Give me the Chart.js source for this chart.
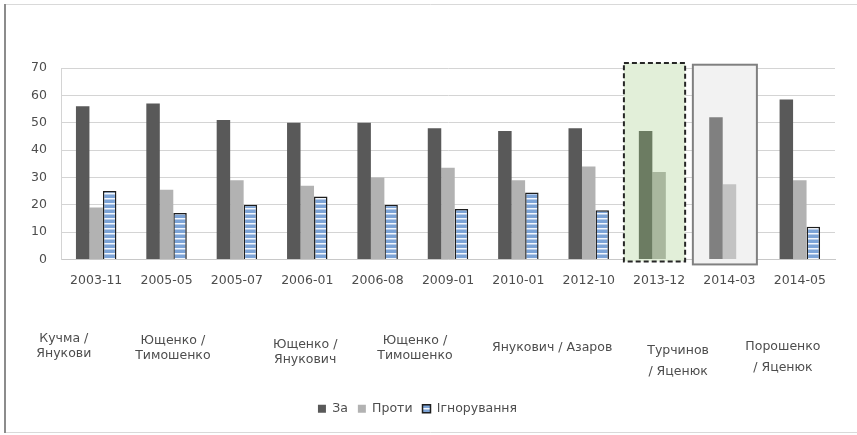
<!DOCTYPE html>
<html>
<head>
<meta charset="utf-8">
<script src="https://cdn.jsdelivr.net/npm/chart.js@4"></script>
<style>
  html, body { margin: 0; padding: 0; background: #fff; }
  #wrap { width: 857px; height: 435px; }
</style>
</head>
<body>
<div id="wrap"><canvas id="myChart" width="857" height="435"></canvas></div>
<script>
// Chart data
const categories = ['2003-11', '2005-05', '2005-07', '2006-01', '2006-08', '2009-01', '2010-01', '2012-10', '2013-12', '2014-03', '2014-05'];
const za = [56, 57, 51, 50, 50, 48, 47, 48, 47, 52, 58.5];
const proty = [19, 25.5, 29, 27, 30, 33.5, 29, 34, 32, 27.5, 29];
const ignor = [25, 17, 20, 23, 20, 18.5, 24.5, 18, null, null, 12];
const seriesNames = ['За', 'Проти', 'Ігнорування'];
const yTicks = [0, 10, 20, 30, 40, 50, 60, 70];

// government periods shown under the dates
const eraLabels = [
  ['Кучма /', 'Янукови'],
  ['Ющенко /', 'Тимошенко'],
  ['Ющенко /', 'Янукович'],
  ['Ющенко /', 'Тимошенко'],
  ['Янукович / Азаров'],
  ['Турчинов', '/ Яценюк'],
  ['Порошенко', '/ Яценюк']
];

// layout of the period labels (category position, first line offset, line gap)
const eraPlace = [[-0.46, 79, 15], [1.09, 81, 15], [2.97, 85, 15], [4.53, 81, 15], [6.48, 88, 15], [8.27, 91, 21], [9.76, 87, 21]];

const fontFamily = '"DejaVu Sans", "Liberation Sans", sans-serif';
const textColor = '#4d4d4d';

// highlighted months: 2013-12 (green dashed) and 2014-03 (grey)
const greenIdx = categories.indexOf('2013-12');
const greyIdx = categories.indexOf('2014-03');

function zaColor(i) {
  if (i === greenIdx) return '#6c7c62';
  if (i === greyIdx) return '#808080';
  return '#595959';
}
function protyColor(i) {
  if (i === greenIdx) return '#a9b79e';
  if (i === greyIdx) return '#c3c3c3';
  return '#b2b2b2';
}

// striped fill for "Ігнорування"
const patCanvas = document.createElement('canvas');
patCanvas.width = 8;
patCanvas.height = 5;
const pctx = patCanvas.getContext('2d');
pctx.fillStyle = '#7ca3d6';
pctx.fillRect(0, 0, 8, 5);
pctx.fillStyle = '#f4f8fd';
pctx.fillRect(0, 3, 8, 1);
pctx.fillStyle = '#b5cbea';
pctx.fillRect(0, 4, 8, 1);
const stripes = document.getElementById('myChart').getContext('2d').createPattern(patCanvas, 'repeat');

// frame around the picture
const framePlugin = {
  id: 'frame',
  beforeDraw(chart) {
    const c = chart.ctx;
    c.save();
    c.fillStyle = '#fff';
    c.fillRect(0, 0, chart.width, chart.height);
    c.strokeStyle = '#d9d9d9';
    c.lineWidth = 1;
    c.beginPath();
    c.moveTo(4, 4.5); c.lineTo(chart.width, 4.5);
    c.moveTo(4, 432.5); c.lineTo(chart.width, 432.5);
    c.stroke();
    c.strokeStyle = '#8c8c8c';
    c.lineWidth = 2;
    c.beginPath();
    c.moveTo(5, 4); c.lineTo(5, 433);
    c.stroke();
    c.restore();
  }
};

// boxes behind the 2013-12 and 2014-03 groups
const highlightPlugin = {
  id: 'highlight',
  beforeDatasetsDraw(chart) {
    const x = chart.scales.x, y = chart.scales.y, c = chart.ctx;
    const w = x.getPixelForValue(1) - x.getPixelForValue(0);
    c.save();
    // green dashed
    let cx = x.getPixelForValue(greenIdx);
    let l = cx - 0.5 * w, r = cx + 0.37 * w;
    let t = y.getPixelForValue(71.8), b = y.getPixelForValue(-0.7);
    c.fillStyle = '#e2efd9';
    c.fillRect(l, t, r - l, b - t);
    c.setLineDash([5, 3]);
    c.strokeStyle = '#262626';
    c.lineWidth = 2;
    c.strokeRect(l, t, r - l, b - t);
    // grey solid
    cx = x.getPixelForValue(greyIdx);
    l = cx - 0.52 * w; r = cx + 0.39 * w;
    t = y.getPixelForValue(71.2); b = y.getPixelForValue(-1.8);
    c.setLineDash([]);
    c.fillStyle = '#f2f2f2';
    c.fillRect(l, t, r - l, b - t);
    c.strokeStyle = '#808080';
    c.lineWidth = 2;
    c.strokeRect(l, t, r - l, b - t);
    c.restore();
  }
};

// period labels below the date ticks
const eraPlugin = {
  id: 'eras',
  afterDraw(chart) {
    const x = chart.scales.x, c = chart.ctx;
    const base = chart.chartArea.bottom;
    c.save();
    c.font = '12.5px ' + fontFamily;
    c.fillStyle = textColor;
    c.textAlign = 'center';
    c.textBaseline = 'middle';
    eraLabels.forEach((lines, i) => {
      const [pos, dy, gap] = eraPlace[i];
      const px = x.getPixelForValue(pos);
      lines.forEach((txt, j) => c.fillText(txt, px, base + dy + j * gap));
    });
    c.restore();
  }
};

const ctx = document.getElementById('myChart').getContext('2d');
new Chart(ctx, {
  type: 'bar',
  data: {
    labels: categories,
    datasets: [{
      label: seriesNames[0],
      data: za,
      backgroundColor: c => c.type === 'data' ? zaColor(c.dataIndex) : '#595959',
      borderWidth: 0
    }, {
      label: seriesNames[1],
      data: proty,
      backgroundColor: c => c.type === 'data' ? protyColor(c.dataIndex) : '#b2b2b2',
      borderWidth: 0
    }, {
      label: seriesNames[2],
      data: ignor,
      backgroundColor: stripes,
      borderColor: '#1e1e1e',
      borderWidth: 1.5
    }]
  },
  options: {
    responsive: false,
    animation: false,
    layout: { padding: { top: 68, right: 22, bottom: 10, left: 0 } },
    datasets: {
      bar: { categoryPercentage: 0.575, barPercentage: 1 }
    },
    plugins: {
      tooltip: { enabled: false },
      legend: {
        position: 'bottom',
        labels: {
          boxWidth: 8,
          boxHeight: 8,
          padding: 10,
          color: textColor,
          font: { family: fontFamily, size: 12.5 }
        }
      }
    },
    scales: {
      x: {
        grid: { display: false, drawTicks: false },
        border: { color: '#c8c8c8' },
        ticks: { color: textColor, padding: 14, maxRotation: 0, autoSkip: false, font: { family: fontFamily, size: 12.5 } },
        afterFit(scale) { scale.height = 133; }
      },
      y: {
        min: 0,
        max: 70,
        afterBuildTicks(scale) { scale.ticks = yTicks.map(v => ({ value: v })); },
        grid: { color: '#d4d4d4', drawTicks: false },
        border: { color: '#d4d4d4' },
        ticks: { color: textColor, padding: 14, font: { family: fontFamily, size: 12.5 } },
        afterFit(scale) { scale.width = 61; }
      }
    }
  },
  plugins: [framePlugin, highlightPlugin, eraPlugin]
});
</script>
</body>
</html>
